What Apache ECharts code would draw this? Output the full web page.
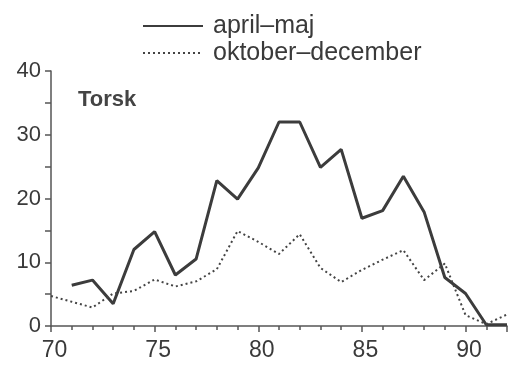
<!DOCTYPE html>
<html><head><meta charset="utf-8">
<script src="https://cdn.jsdelivr.net/npm/echarts@6/dist/echarts.min.js"></script>
<style>html,body{margin:0;padding:0;background:#fff}#c{width:510px;height:365px}</style>
</head><body><div id="c"></div>
<script>
const years = [70,71,72,73,74,75,76,77,78,79,80,81,82,83,84,85,86,87,88,89,90,91,92];
const aprilMaj = [null,6.4,7.2,3.5,12.0,14.8,8.0,10.5,22.8,19.9,24.8,32.0,32.0,24.9,27.7,16.9,18.1,23.5,17.9,7.6,5.1,0.2,0.2];
const oktoberDecember = [4.7,3.8,2.9,5.1,5.5,7.3,6.2,7.0,8.9,14.9,13.2,11.3,14.4,9.1,6.9,8.8,10.4,11.9,7.2,9.8,1.7,0.3,1.8];
const seriesNames = ['april\u2013maj','oktober\u2013december'];
const chartTitle = 'Torsk';

const font = 'Liberation Sans, Arial, Helvetica, sans-serif';
const ink = '#3c3c3c';
const pairs = (vals) => years.map((y,i)=>[y, vals[i]]);

const chart = echarts.init(document.getElementById('c'));
chart.setOption({
  animation:false,
  backgroundColor:'#fff',
  title:{text:chartTitle,left:73,top:84,textStyle:{fontFamily:font,fontSize:22,fontWeight:'bold',color:'#444'}},
  legend:{
    orient:'vertical',left:137,top:8,itemWidth:60,itemHeight:14,itemGap:1,
    itemStyle:{color:'transparent',borderWidth:0,opacity:0},
    textStyle:{fontFamily:font,fontSize:25,color:'#3a3a3a',lineHeight:26,padding:[0,0,0,5]},
    data:seriesNames
  },
  grid:{left:51,right:0,top:71,bottom:39,containLabel:false},
  xAxis:{
    type:'value',min:70,max:92,interval:5,
    axisLine:{lineStyle:{color:'#555',width:1.5}},
    axisTick:{length:6,lineStyle:{color:'#555',width:1.5}},
    minorTick:{show:true,splitNumber:5,length:4,lineStyle:{color:'#555',width:1.5}},
    splitLine:{show:false},
    axisLabel:{fontFamily:font,fontSize:23,color:'#3a3a3a',margin:13,padding:[0,0,0,7],
      formatter:(v)=> (v%5===0 ? String(v) : '')}
  },
  yAxis:{
    type:'value',min:0,max:40,interval:10,
    axisLine:{show:true,lineStyle:{color:'#555',width:1.5}},
    axisTick:{show:true,length:6,lineStyle:{color:'#555',width:1.5}},
    minorTick:{show:true,splitNumber:2,length:6,lineStyle:{color:'#555',width:1.5}},
    splitLine:{show:false},
    axisLabel:{fontFamily:font,fontSize:22,color:'#3a3a3a',margin:10}
  },
  series:[
    {name:seriesNames[0],type:'line',data:pairs(aprilMaj),showSymbol:false,symbol:'none',connectNulls:false,
     lineStyle:{color:ink,width:3},itemStyle:{color:ink}},
    {name:seriesNames[1],type:'line',data:pairs(oktoberDecember),showSymbol:false,symbol:'none',
     lineStyle:{color:'#444',width:2,type:[2,3]},itemStyle:{color:'#444'}}
  ]
});
</script></body></html>
